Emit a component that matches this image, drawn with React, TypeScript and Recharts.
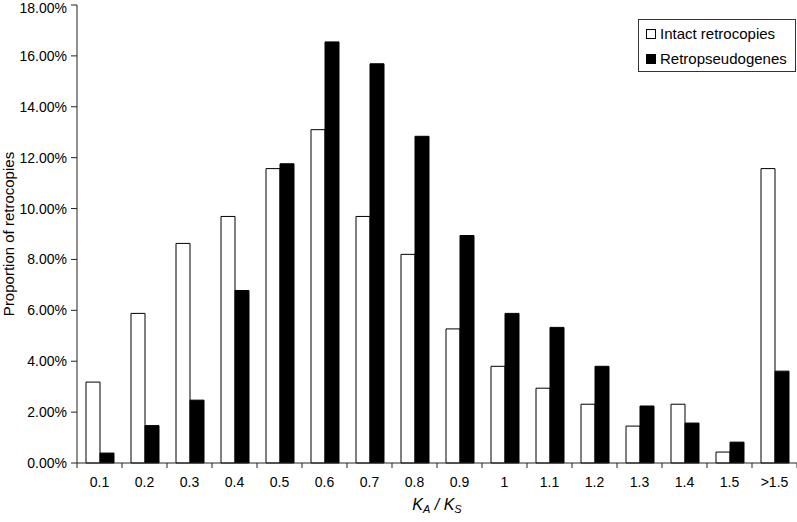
import React from 'react';
import { BarChart, Bar, XAxis, YAxis } from 'recharts';

const categories = ['0.1', '0.2', '0.3', '0.4', '0.5', '0.6', '0.7', '0.8', '0.9', '1', '1.1', '1.2', '1.3', '1.4', '1.5', '>1.5'];
const intact = [3.18, 5.88, 8.63, 9.69, 11.57, 13.1, 9.69, 8.2, 5.27, 3.8, 2.94, 2.31, 1.45, 2.31, 0.43, 11.57];
const retro = [0.39, 1.47, 2.47, 6.78, 11.76, 16.55, 15.69, 12.84, 8.94, 5.88, 5.33, 3.8, 2.24, 1.57, 0.82, 3.61];
const yTicks = [0, 2, 4, 6, 8, 10, 12, 14, 16, 18];
const seriesNames = ['Intact retrocopies', 'Retropseudogenes'];
const seriesFills = ['#fff', '#000'];

const data = categories.map((c, i) => ({ cat: c, intact: intact[i], retro: retro[i] }));

const FONT = 'Arial, "Liberation Sans", sans-serif';
const AXIS = '#222';
const TICK_SIZE = 5;
const TICK_MARGIN = 12;

// Excel-style ticks: marks sit between categories, labels in the middle
function CatTick(props: any) {
    const { x, y, payload, index, visibleTicksCount } = props;
    const half = payload.offset ?? 0;
    const axisY = y - TICK_SIZE - TICK_MARGIN;
    const last = index === visibleTicksCount - 1;
    return (
        <g>
            <line x1={x - half} x2={x - half} y1={axisY} y2={axisY + TICK_SIZE} stroke={AXIS} />
            {last && <line x1={x + half} x2={x + half} y1={axisY} y2={axisY + TICK_SIZE} stroke={AXIS} />}
            <text x={x} y={y} dy={7} textAnchor="middle" fontSize={14} fill="#000" fontFamily={FONT}>
                {payload.value}
            </text>
        </g>
    );
}

function XTitle(props: any) {
    const { viewBox } = props;
    const cx = viewBox.x + viewBox.width / 2;
    return (
        <text x={cx} y={viewBox.y + 47} textAnchor="middle" fontSize={16} fontStyle="italic" fontFamily={FONT} fill="#000">
            <tspan>K</tspan>
            <tspan fontSize={11} dy={3}>A</tspan>
            <tspan dy={-3}> / K</tspan>
            <tspan fontSize={11} dy={3}>S</tspan>
        </text>
    );
}

function YTitle(props: any) {
    const { viewBox } = props;
    const cy = viewBox.y + viewBox.height / 2;
    const x = 14;
    return (
        <text x={x} y={cy} transform={`rotate(-90 ${x} ${cy})`} textAnchor="middle" fontSize={15}
            fontFamily={FONT} fill="#000">
            Proportion of retrocopies
        </text>
    );
}

function LegendBox() {
    return (
        <div style={{ position: 'absolute', left: 638, top: 19, width: 158, height: 53, border: '1px solid #333',
            background: '#fff', padding: '1px 0 0 7px', boxSizing: 'border-box', fontFamily: FONT, fontSize: 15,
            color: '#000', whiteSpace: 'nowrap' }}>
            {seriesNames.map((n, i) => (
                <div key={n} style={{ display: 'flex', alignItems: 'center', height: 25 }}>
                    <span style={{ display: 'inline-block', width: 8, height: 8, border: '1px solid #000',
                        background: seriesFills[i], marginRight: 4 }} />
                    {n}
                </div>
            ))}
        </div>
    );
}

export default function App() {
    return (
        <div style={{ position: 'absolute', left: 0, top: 0, background: '#fff' }}>
            <BarChart width={797} height={522} data={data} margin={{ top: 5, right: 0, left: 0, bottom: 0 }}
                barCategoryGap="20%" barGap={0} style={{ fontFamily: FONT }}>
                <XAxis dataKey="cat" height={59} tickLine={false} tickSize={TICK_SIZE} tickMargin={TICK_MARGIN}
                    axisLine={{ stroke: AXIS }} tick={<CatTick />} interval={0} label={{ content: <XTitle /> }} />
                <YAxis width={77} domain={[0, 18]} ticks={yTicks} tickSize={6} tickMargin={4}
                    tickFormatter={(v: number) => v.toFixed(2) + '%'}
                    tick={{ fontSize: 14, fill: '#000', fontFamily: FONT }}
                    axisLine={{ stroke: AXIS }} tickLine={{ stroke: AXIS }}
                    label={{ content: <YTitle /> }} />
                <Bar dataKey="intact" name={seriesNames[0]} fill={seriesFills[0]} stroke="#000" strokeWidth={1} isAnimationActive={false} />
                <Bar dataKey="retro" name={seriesNames[1]} fill={seriesFills[1]} stroke="#000" strokeWidth={1} isAnimationActive={false} />
            </BarChart>
            <LegendBox />
        </div>
    );
}
